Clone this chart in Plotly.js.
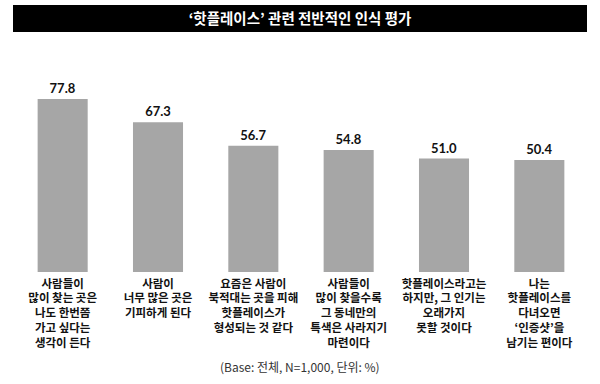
<!DOCTYPE html>
<html><head><meta charset="utf-8">
<script src="https://cdn.plot.ly/plotly-3.0.1.min.js"></script>
<style>html,body{margin:0;padding:0;background:#fff}</style>
</head><body><div id="chart" style="width:600px;height:384px"></div>
<script>
const categories = ['c1','c2','c3','c4','c5','c6'];
const tickLabels = [
  '사람들이<br>많이 찾는 곳은<br>나도 한번쯤<br>가고 싶다는<br>생각이 든다',
  '사람이<br>너무 많은 곳은<br>기피하게 된다',
  '요즘은 사람이<br>북적대는 곳을 피해<br>핫플레이스가<br>형성되는 것 같다',
  '사람들이<br>많이 찾을수록<br>그 동네만의<br>특색은 사라지기<br>마련이다',
  '핫플레이스라고는<br>하지만, 그 인기는<br>오래가지<br>못할 것이다',
  '나는<br>핫플레이스를<br>다녀오면<br>‘인증샷’을<br>남기는 편이다'
];
const values = [77.8, 67.3, 56.7, 54.8, 51.0, 50.4];
const valueText = values.map(v => v.toFixed(1));

const kr = '"Noto Sans CJK KR", "Noto Sans", sans-serif';
const data = [{
  type: 'bar', x: categories, y: values,
  marker: {color: '#a6a6a6'},
  text: valueText, textposition: 'outside', cliponaxis: false,
  textfont: {family: 'Lato, "Noto Sans", sans-serif', size: 13, color: '#111', weight: 700},
  hoverinfo: 'none'
}];
const layout = {
  width: 600, height: 384,
  margin: {l: 15, r: 13, t: 50, b: 112, pad: 0},
  paper_bgcolor: '#fff', plot_bgcolor: '#fff',
  bargap: 0.475,
  showlegend: false,
  title: {text: '‘핫플레이스’ 관련 전반적인 인식 평가', x: 0.5, xanchor: 'center', y: 1 - 19/384, yanchor: 'middle',
          font: {family: kr, size: 14.5, color: '#fff', weight: 700}},
  xaxis: {tickmode: 'array', tickvals: categories, ticktext: tickLabels, showline: false, showgrid: false,
          zeroline: false, ticks: '', ticklabelstandoff: 3,
          tickfont: {family: kr, size: 11.5, color: '#111', weight: 700}},
  yaxis: {range: [0, 99.8], visible: false, showgrid: false, zeroline: false},
  shapes: [{type: 'rect', xref: 'paper', yref: 'paper', layer: 'below',
            x0: (13-15)/572, x1: (587-15)/572, y0: (272-32)/222, y1: (272-5)/222,
            fillcolor: '#000', line: {width: 0}}],
  annotations: [{text: '(Base: 전체, N=1,000, 단위: %)', xref: 'paper', yref: 'paper',
                 x: (300-15)/572, y: (272-366)/222, xanchor: 'center', yanchor: 'middle', showarrow: false,
                 font: {family: kr, size: 12, color: '#333'}}]
};
Plotly.newPlot('chart', data, layout, {displayModeBar: false, staticPlot: true});
</script></body></html>
